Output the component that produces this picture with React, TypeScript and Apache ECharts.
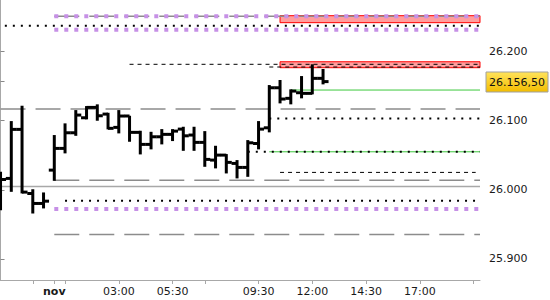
import React, { useEffect, useRef } from "react";
import * as echarts from "echarts";

// ---- OHLC data (30-minute bars, slot index on x) ----
const slots = [0, 1, 2, 3, 4, 5, 6, 7, 8, 9, 10, 11, 12, 13, 14, 15, 16, 17, 18, 19, 20, 21, 22, 23, 24, 25, 26, 27, 28, 29, 30];
const opens = [26010.0, 26016.5, 26087.4, 25994.8, 25980.3, 26028.5, 26059.9, 26082.5, 26104.2, 26119.2, 26109.5, 26090.3, 26106.7, 26083.1, 26065.7, 26076.7, 26080.2, 26087.8, 26079.2, 26068.6, 26043.0, 26050.2, 26038.2, 26032.4, 26067.1, 26089.7, 26147.6, 26132.3, 26140.4, 26139.5, 26161.2];
const highs = [26026.0, 26099.4, 26121.6, 26001.0, 25996.2, 26079.2, 26096.1, 26115.3, 26121.1, 26123.6, 26111.4, 26115.3, 26107.1, 26085.4, 26083.9, 26087.8, 26087.8, 26091.2, 26091.2, 26084.9, 26063.7, 26051.7, 26043.0, 26071.9, 26099.4, 26151.5, 26158.8, 26145.3, 26164.5, 26181.5, 26174.7];
const lows = [25970.6, 25997.1, 25994.8, 25965.8, 25973.1, 26013.0, 26052.7, 26078.1, 26101.9, 26099.9, 26087.4, 26081.6, 26069.5, 26051.2, 26058.5, 26065.7, 26070.5, 26056.4, 26056.4, 26033.3, 26031.0, 26023.7, 26016.5, 26018.8, 26058.5, 26083.1, 26125.0, 26123.6, 26132.3, 26138.1, 26152.5];
const closes = [26015.0, 26087.4, 25996.7, 25980.3, 25983.6, 26059.9, 26082.5, 26108.1, 26119.2, 26107.1, 26088.9, 26106.7, 26083.1, 26065.7, 26076.7, 26080.2, 26084.9, 26078.1, 26068.6, 26044.0, 26050.2, 26039.7, 26032.4, 26068.0, 26087.8, 26147.6, 26131.3, 26142.8, 26139.5, 26161.2, 26156.5];

// ---- horizontal levels (value, start slot) ----
const grayDashLevels = [26250.9, 26116.8, 26014.0, 25935.5];
const grayDashStarts = [5, 0, 5, 5];
const purpleLevels = [26250.9, 26231.5, 25972.1];
const purpleStarts = [5, 5, 5];
const blackDotLevels = [26237.3, 26103.3, 26055.0, 25984.1];
const blackDotStarts = [0.4, 25, 23, 6];
const blackDashLevels = [26181.5, 26177.6, 26025.2];
const blackDashStarts = [12, 25, 26];
const blackDashEnds = [null, null, 44.2];
const greenLevels = [26144.3, 26055.0];
const greenStarts = [27, 25];
const solidGrayLevels = [26004.9];
const solidGrayStarts = [0];
const redZones = [
  [26241.7, 26251.8],
  [26176.6, 26185.2],
];
const redZoneStarts = [26, 26];

// ---- axes ----
const xMin = -0.05;
const xMax = 44.6;
const yMin = 25869.6;
const yMax = 26274.5;
const xTickSlots = [3, 5, 6, 11, 16, 19, 24, 29, 34, 39, 44];
const xLabelSlots = [5, 11, 16, 24, 29, 34, 39];
const xLabelTexts = ["nov", "03:00", "05:30", "09:30", "12:00", "14:30", "17:00"];
const yLabelValues = [25900, 26000, 26100, 26200];

const FONT = "DejaVu Sans";

function fmtThousands(v: number): string {
  return Math.round(v)
    .toString()
    .replace(/\B(?=(\d{3})+(?!\d))/g, ".");
}
function fmtPrice(v: number): string {
  const [i, d] = v.toFixed(2).split(".");
  return i.replace(/\B(?=(\d{3})+(?!\d))/g, ".") + "," + d;
}

function levelSeries(values: number[], starts: number[], lineStyle: any, z: number, ends?: (number | null)[]) {
  return values.map((v, k) => ({
    type: "line",
    data: [
      [starts[k], v],
      [ends && ends[k] != null ? ends[k] : xMax, v],
    ],
    showSymbol: false,
    symbol: "none",
    silent: true,
    z,
    lineStyle,
  }));
}

export default function App() {
  const ref = useRef<HTMLDivElement>(null);
  useEffect(() => {
    if (!ref.current) return;
    const chart = echarts.init(ref.current, undefined, { renderer: "svg" });
    const ohlc = slots.map((s, i) => [s, opens[i], closes[i], lows[i], highs[i]]);
    const last = closes[closes.length - 1];

    const series: any[] = [];
    // red zones
    series.push({
      type: "line",
      data: [],
      silent: true,
      z: 1,
      markArea: {
        silent: true,
        itemStyle: { color: "rgba(255,60,60,0.5)", borderColor: "#ff0000", borderWidth: 1 },
        data: redZones.map((zn, k) => [
          { coord: [redZoneStarts[k], zn[1]] },
          { coord: [xMax, zn[0]] },
        ]),
      },
    });
    series.push(
      ...levelSeries(grayDashLevels, grayDashStarts, { color: "#8c8c8c", width: 1.5, type: [25, 10] }, 2),
      ...levelSeries(solidGrayLevels, solidGrayStarts, { color: "#a8a8a8", width: 1.5, type: "solid" }, 2),
      ...levelSeries(greenLevels, greenStarts, { color: "#3cc83c", width: 1, type: "solid" }, 3),
      ...levelSeries(blackDotLevels, blackDotStarts, { color: "#000", width: 2, type: [2, 6] }, 4),
      ...levelSeries(blackDashLevels, blackDashStarts, { color: "#000", width: 1, type: [4, 4] }, 4, blackDashEnds),
      ...levelSeries(purpleLevels, purpleStarts, { color: "#c690e6", width: 4, type: [4, 6], cap: "butt" }, 5)
    );
    series.push({
      type: "custom",
      data: ohlc,
      z: 10,
      clip: true,
      encode: { x: 0, y: [1, 2, 3, 4] },
      renderItem: (params: any, api: any) => {
        const x = api.value(0);
        const o = api.coord([x, api.value(1)]);
        const c = api.coord([x, api.value(2)]);
        const l = api.coord([x, api.value(3)]);
        const h = api.coord([x, api.value(4)]);
        return {
          type: "group",
          children: [
            { type: "rect", shape: { x: h[0] - 1.5, y: h[1], width: 3, height: l[1] - h[1] }, style: { fill: "#000" } },
            { type: "rect", shape: { x: o[0] - 5.5, y: o[1] - 1.5, width: 5.5, height: 3 }, style: { fill: "#000" } },
            { type: "rect", shape: { x: c[0], y: c[1] - 1.5, width: 5.5, height: 3 }, style: { fill: "#000" } },
          ],
        };
      },
    });

    chart.setOption({
      animation: false,
      grid: { left: 0, right: 70, top: 0, bottom: 20, containLabel: false },
      xAxis: {
        type: "value",
        min: xMin,
        max: xMax,
        splitLine: { show: false },
        axisLine: { show: true, lineStyle: { color: "#a8a8a8", width: 1 } },
        axisTick: { show: true, customValues: xTickSlots, length: 4, lineStyle: { color: "#a8a8a8" } },
        axisLabel: {
          customValues: xLabelSlots,
          margin: 6,
          fontSize: 11,
          fontFamily: FONT,
          color: "#1a1a1a",
          formatter: (v: number) => {
            const k = xLabelSlots.indexOf(Math.round(v));
            if (k < 0) return "";
            return k === 0 ? "{b|" + xLabelTexts[k] + "}" : xLabelTexts[k];
          },
          rich: { b: { fontWeight: "bold", fontSize: 11, fontFamily: FONT, color: "#1a1a1a" } },
        },
      },
      yAxis: {
        type: "value",
        position: "right",
        min: yMin,
        max: yMax,
        splitLine: { show: false },
        axisLine: { show: true, lineStyle: { color: "#a8a8a8", width: 1 } },
        axisTick: { show: true, customValues: [...yLabelValues, last], length: 4, lineStyle: { color: "#888" } },
        axisLabel: {
          customValues: yLabelValues,
          margin: 9,
          fontSize: 11,
          fontFamily: FONT,
          color: "#1a1a1a",
          formatter: (v: number) => fmtThousands(v),
        },
      },
      series,
    });

    const py = chart.convertToPixel({ yAxisIndex: 0 }, last) as number;
    chart.setOption({
      graphic: [
        {
          type: "rect",
          shape: { x: 486, y: Math.round(py) - 10, width: 62, height: 20 },
          style: {
            fill: new echarts.graphic.LinearGradient(0, 0, 0, 1, [
              { offset: 0, color: "#ffe35c" },
              { offset: 1, color: "#f2bd00" },
            ]),
            stroke: "#a0a0a0",
            lineWidth: 1,
          },
          z: 100,
        },
        {
          type: "text",
          x: 517,
          y: Math.round(py),
          style: {
            text: fmtPrice(last),
            fill: "#111",
            fontSize: 11,
            fontFamily: FONT,
            align: "center",
            verticalAlign: "middle",
          },
          z: 101,
        },
      ],
    });

    return () => chart.dispose();
  }, []);
  return (
    <div
      ref={ref}
      style={{ position: "absolute", left: 0, top: 0, width: 550, height: 300, background: "#fff" }}
    />
  );
}
